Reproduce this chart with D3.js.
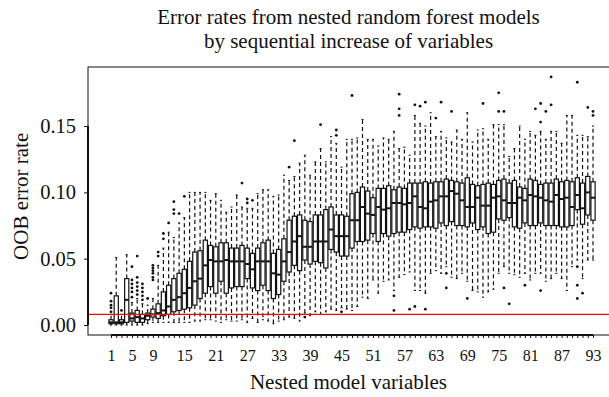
<!DOCTYPE html>
<html lang="en">
  <head>
    <meta charset="utf-8">
    <title>OOB error rates</title>
    <script src="https://d3js.org/d3.v7.min.js"></script>
    <style>
      body { margin: 0; background: #fff; }
      text { font-family: "Liberation Serif", "Times New Roman", serif; fill: #111; }
    </style>
  </head>

  <body>

  <script>

// values
  var variables = d3.range(1, 94);

  var whiskerLow = [
    0, 0, 0, 0, 0, 0, 0, 0.001, 0.002, 0.002,
    0.002, 0.002, 0.002, 0.002, 0.002, 0.002, 0.003, 0.003, 0.004, 0.004,
    0.003, 0.002, 0.004, 0.003, 0.003, 0.004, 0.002, 0.005, 0.002, 0.004,
    0.003, 0.001, 0.003, 0.004, 0.006, 0.005, 0.003, 0.009, 0.007, 0.010,
    0.008, 0.010, 0.012, 0.011, 0.013, 0.012, 0.011, 0.014, 0.021, 0.020,
    0.034, 0.024, 0.033, 0.034, 0.026, 0.036, 0.038, 0.040, 0.026, 0.026,
    0.024, 0.039, 0.041, 0.039, 0.044, 0.036, 0.035, 0.039, 0.033, 0.026,
    0.025, 0.021, 0.025, 0.027, 0.039, 0.044, 0.039, 0.038, 0.036, 0.039,
    0.034, 0.039, 0.039, 0.033, 0.035, 0.039, 0.035, 0.026, 0.044, 0.049,
    0.035, 0.049, 0.049];

  var q1 = [
    0.001, 0.001, 0.001, 0.002, 0.003, 0.002, 0.002, 0.004, 0.006, 0.005,
    0.007, 0.008, 0.010, 0.011, 0.012, 0.013, 0.015, 0.020, 0.024, 0.029,
    0.024, 0.033, 0.024, 0.028, 0.029, 0.029, 0.035, 0.028, 0.026, 0.030,
    0.026, 0.020, 0.023, 0.033, 0.040, 0.045, 0.041, 0.049, 0.046, 0.048,
    0.047, 0.043, 0.057, 0.055, 0.052, 0.052, 0.058, 0.063, 0.063, 0.064,
    0.069, 0.063, 0.069, 0.067, 0.069, 0.070, 0.070, 0.072, 0.074, 0.073,
    0.074, 0.074, 0.073, 0.077, 0.075, 0.078, 0.075, 0.075, 0.074, 0.077,
    0.072, 0.074, 0.069, 0.070, 0.080, 0.079, 0.081, 0.074, 0.073, 0.077,
    0.075, 0.075, 0.077, 0.075, 0.075, 0.075, 0.074, 0.074, 0.075, 0.087,
    0.076, 0.083, 0.079];

  var median = [
    0.002, 0.002, 0.002, 0.019, 0.005, 0.006, 0.005, 0.007, 0.008, 0.009,
    0.011, 0.014, 0.019, 0.021, 0.024, 0.028, 0.033, 0.035, 0.045, 0.049,
    0.048, 0.048, 0.049, 0.048, 0.048, 0.048, 0.046, 0.042, 0.048, 0.048,
    0.048, 0.039, 0.038, 0.048, 0.055, 0.063, 0.067, 0.059, 0.059, 0.063,
    0.063, 0.063, 0.072, 0.067, 0.067, 0.067, 0.079, 0.079, 0.089, 0.084,
    0.083, 0.089, 0.087, 0.088, 0.092, 0.092, 0.091, 0.092, 0.097, 0.089,
    0.088, 0.093, 0.094, 0.097, 0.097, 0.101, 0.099, 0.094, 0.089, 0.089,
    0.096, 0.090, 0.090, 0.096, 0.097, 0.094, 0.092, 0.092, 0.096, 0.094,
    0.098, 0.097, 0.096, 0.094, 0.093, 0.098, 0.095, 0.096, 0.089, 0.098,
    0.088, 0.100, 0.096];

  var q3 = [
    0.004, 0.022, 0.004, 0.035, 0.009, 0.011, 0.008, 0.009, 0.012, 0.016,
    0.025, 0.030, 0.035, 0.039, 0.042, 0.048, 0.055, 0.056, 0.064, 0.060,
    0.059, 0.062, 0.062, 0.058, 0.058, 0.060, 0.058, 0.054, 0.058, 0.062,
    0.064, 0.054, 0.057, 0.065, 0.079, 0.082, 0.083, 0.079, 0.078, 0.083,
    0.083, 0.087, 0.089, 0.083, 0.083, 0.082, 0.099, 0.100, 0.104, 0.101,
    0.096, 0.103, 0.103, 0.105, 0.102, 0.104, 0.103, 0.107, 0.107, 0.107,
    0.108, 0.107, 0.108, 0.108, 0.110, 0.109, 0.108, 0.107, 0.111, 0.106,
    0.105, 0.106, 0.107, 0.106, 0.109, 0.110, 0.107, 0.109, 0.104, 0.103,
    0.110, 0.109, 0.106, 0.107, 0.107, 0.110, 0.108, 0.109, 0.108, 0.111,
    0.107, 0.112, 0.108];

  var whiskerHigh = [
    0.008, 0.051, 0.008, 0.053, 0.017, 0.020, 0.016, 0.015, 0.020, 0.045,
    0.058, 0.070, 0.066, 0.077, 0.081, 0.100, 0.100, 0.100, 0.100, 0.094,
    0.099, 0.094, 0.085, 0.089, 0.098, 0.089, 0.088, 0.088, 0.099, 0.102,
    0.102, 0.097, 0.098, 0.113, 0.109, 0.112, 0.122, 0.128, 0.113, 0.123,
    0.133, 0.123, 0.142, 0.137, 0.119, 0.140, 0.140, 0.141, 0.155, 0.140,
    0.140, 0.135, 0.141, 0.140, 0.146, 0.133, 0.134, 0.128, 0.158, 0.152,
    0.150, 0.160, 0.142, 0.146, 0.141, 0.138, 0.147, 0.140, 0.160, 0.138,
    0.147, 0.148, 0.140, 0.151, 0.151, 0.151, 0.127, 0.133, 0.150, 0.140,
    0.146, 0.143, 0.146, 0.140, 0.146, 0.146, 0.137, 0.158, 0.158, 0.143,
    0.143, 0.142, 0.150];

  var outlierVariable = [
    1, 1, 1, 1, 1, 3, 5, 5, 5, 5, 5, 5, 6, 6, 6, 6, 6, 6, 7, 7, 7, 7, 7, 8,
    9, 9, 9, 9, 9, 9, 10, 10, 11, 11, 12, 13, 13, 13, 14, 15, 26, 27, 27, 28,
    35, 36, 38, 41, 44, 44, 45, 47, 55, 55, 56, 56, 56, 58, 59, 59, 60, 61, 61,
    63, 64, 65, 65, 66, 69, 72, 75, 75, 76, 76, 77, 80, 82, 83, 83, 83, 84,
    85, 85, 90, 90, 90, 90, 91, 92, 93, 93];

  var outlierRate = [
    0.010, 0.013, 0.015, 0.018, 0.024, 0.011, 0.021, 0.025, 0.028, 0.031, 0.034, 0.044,
    0.023, 0.026, 0.029, 0.032, 0.036, 0.052, 0.019, 0.022, 0.025, 0.028, 0.031, 0.020,
    0.034, 0.036, 0.039, 0.041, 0.043, 0.045, 0.052, 0.055, 0.065, 0.069, 0.077, 0.084,
    0.087, 0.093, 0.084, 0.097, 0.107, 0.092, 0.095, 0.094,
    0.119, 0.139, 0.006, 0.151, 0.143, 0.147, 0.010, 0.173, 0.022, 0.011, 0.158, 0.163,
    0.174, 0.012, 0.166, 0.014, 0.165, 0.168, 0.012,
    0.156, 0.168, 0.039, 0.028, 0.161, 0.020, 0.167, 0.175, 0.161, 0.161, 0.028, 0.016,
    0.030, 0.163, 0.167, 0.153, 0.026, 0.161,
    0.187, 0.166, 0.183, 0.044, 0.030, 0.020, 0.024, 0.164, 0.158, 0.161];

  var xTickLabels = [1, 5, 9, 15, 21, 27, 33, 39, 45, 51, 57, 63, 69, 75, 81, 87, 93];
  var yTickValues = [0, 0.05, 0.10, 0.15];
  var referenceRate = 0.008;

  var titleLines = ["Error rates from nested random forest models",
                    "by sequential increase of variables"];

// layout

  var w = 609;
  var h = 397;
  var margin = {top: 67, right: 0, bottom: 62, left: 88};

  var svg = d3.select("body")
    .append("svg")
      .attr("width", w)
      .attr("height", h);

  var xScale = d3.scaleLinear()
      .domain([-3.39, 96.05])
      .range([margin.left, w]);

  var yScale = d3.scaleLinear()
      .domain([-0.0075, 0.1945])
      .range([h - margin.bottom, margin.top]);

  var boxW = (xScale(2) - xScale(1)) * 0.8;
  var stapleW = boxW * 0.5;

  var boxes = variables.map(function(v, i) {
      return {v: v, lo: whiskerLow[i], q1: q1[i], med: median[i], q3: q3[i], hi: whiskerHigh[i]};
  });

  // plot frame
  svg.append("rect")
      .attr("x", margin.left)
      .attr("y", margin.top)
      .attr("width", w - margin.left + 2)
      .attr("height", h - margin.top - margin.bottom)
      .attr("fill", "none")
      .attr("stroke", "#111")
      .attr("stroke-width", 1);

  var g = svg.append("g").attr("id", "boxes");

  var box = g.selectAll("g.box")
      .data(boxes)
    .enter().append("g")
      .attr("class", "box");

  // whiskers (dashed)
  box.append("line")
      .attr("x1", d => xScale(d.v))
      .attr("x2", d => xScale(d.v))
      .attr("y1", d => yScale(d.q3))
      .attr("y2", d => yScale(d.hi))
      .attr("stroke", "#111")
      .attr("stroke-width", 1.2)
      .attr("stroke-dasharray", "4,3");

  box.append("line")
      .attr("x1", d => xScale(d.v))
      .attr("x2", d => xScale(d.v))
      .attr("y1", d => yScale(d.q1))
      .attr("y2", d => yScale(d.lo))
      .attr("stroke", "#111")
      .attr("stroke-width", 1.2)
      .attr("stroke-dasharray", "4,3");

  // staples
  box.append("line")
      .attr("x1", d => xScale(d.v) - stapleW / 2)
      .attr("x2", d => xScale(d.v) + stapleW / 2)
      .attr("y1", d => yScale(d.hi))
      .attr("y2", d => yScale(d.hi))
      .attr("stroke", "#111")
      .attr("stroke-width", 1);

  box.append("line")
      .attr("x1", d => xScale(d.v) - stapleW / 2)
      .attr("x2", d => xScale(d.v) + stapleW / 2)
      .attr("y1", d => yScale(d.lo))
      .attr("y2", d => yScale(d.lo))
      .attr("stroke", "#111")
      .attr("stroke-width", 1);

  // boxes
  box.append("rect")
      .attr("x", d => xScale(d.v) - boxW / 2)
      .attr("y", d => yScale(d.q3))
      .attr("width", boxW)
      .attr("height", d => Math.max(0.5, yScale(d.q1) - yScale(d.q3)))
      .attr("fill", "#fff")
      .attr("stroke", "#111")
      .attr("stroke-width", 1.2);

  box.append("line")
      .attr("x1", d => xScale(d.v) - boxW / 2)
      .attr("x2", d => xScale(d.v) + boxW / 2)
      .attr("y1", d => yScale(d.med))
      .attr("y2", d => yScale(d.med))
      .attr("stroke", "#111")
      .attr("stroke-width", 2);

  // outliers
  g.selectAll("circle")
      .data(outlierRate)
    .enter().append("circle")
      .attr("cx", (d, i) => xScale(outlierVariable[i]))
      .attr("cy", d => yScale(d))
      .attr("r", 1.4)
      .attr("fill", "#111");

  // reference line
  svg.append("line")
      .attr("x1", margin.left)
      .attr("x2", w)
      .attr("y1", yScale(referenceRate))
      .attr("y2", yScale(referenceRate))
      .attr("stroke", "#f00")
      .attr("stroke-width", 1.2);

// axes

  var xAxis = d3.axisBottom(xScale)
      .tickValues(variables)
      .tickSize(3)
      .tickPadding(12)
      .tickFormat(d => xTickLabels.indexOf(d) >= 0 ? d : "");

  var gx = svg.append("g")
      .attr("class", "xAxis")
      .attr("transform", `translate(0, ${h - margin.bottom})`)
      .call(xAxis);
  gx.select(".domain").remove();
  gx.selectAll("line").attr("stroke", "#111");
  gx.selectAll("text")
      .attr("font-size", 16)
      .style("font-family", "'Liberation Serif', serif");
  gx.append("line")
      .attr("x1", xScale(variables[0]))
      .attr("x2", xScale(variables[variables.length - 1]))
      .attr("stroke", "#111")
      .attr("stroke-width", 2);

  var yAxis = d3.axisLeft(yScale)
      .tickValues(yTickValues)
      .tickSize(4)
      .tickPadding(8)
      .tickFormat(d3.format(".2f"));

  var gy = svg.append("g")
      .attr("class", "yAxis")
      .attr("transform", `translate(${margin.left}, 0)`)
      .call(yAxis);
  gy.select(".domain").remove();
  gy.selectAll("line").attr("stroke", "#111");
  gy.selectAll("text")
      .attr("font-size", 20.5)
      .style("font-family", "'Liberation Serif', serif");
  gy.append("line")
      .attr("y1", yScale(yTickValues[0]))
      .attr("y2", yScale(yTickValues[yTickValues.length - 1]))
      .attr("stroke", "#111")
      .attr("stroke-width", 2);

// titles

  var cx = (margin.left + w) / 2;

  svg.append("g").selectAll("text")
      .data(titleLines)
    .enter().append("text")
      .attr("x", cx)
      .attr("y", (d, i) => 24 + i * 24)
      .attr("text-anchor", "middle")
      .attr("font-size", 21)
      .text(d => d);

  svg.append("text")
      .attr("x", cx)
      .attr("y", 389)
      .attr("text-anchor", "middle")
      .attr("font-size", 21)
      .text("Nested model variables");

  svg.append("text")
      .attr("transform", `translate(28, ${yScale(0.097)}) rotate(-90)`)
      .attr("text-anchor", "middle")
      .attr("font-size", 21)
      .text("OOB error rate");

    </script>

  </body>

</html>
